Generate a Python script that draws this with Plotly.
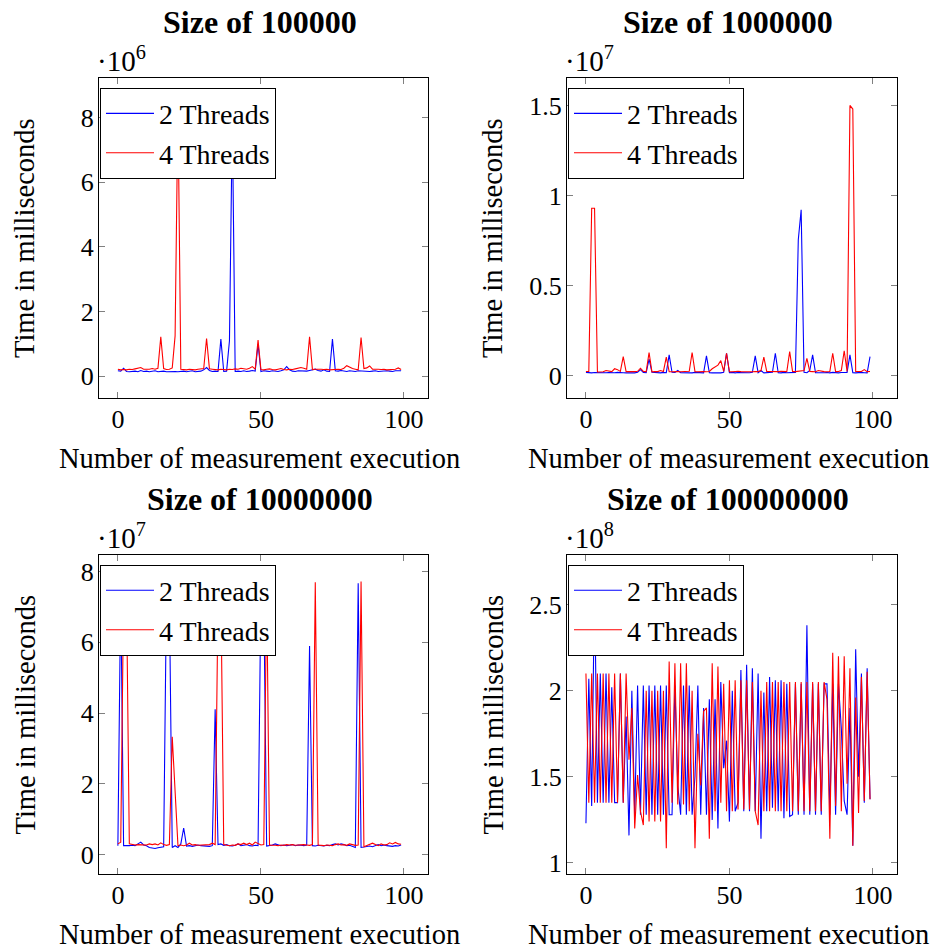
import plotly.graph_objects as go

W, H = 933, 951

# ---------------- data ----------------
runs = list(range(100))

# Size 100000, values in units of 1e6 ms
t2_size1 = [0.17, 0.16, 0.25, 0.15, 0.14, 0.15, 0.16, 0.14, 0.18, 0.15,
            0.16, 0.14, 0.15, 0.17, 0.14, 0.15, 0.16, 0.14, 0.15, 0.16,
            0.15, 0.14, 0.15, 0.16, 0.14, 0.15, 0.17, 0.14, 0.15, 0.16,
            0.20, 0.27, 0.18, 0.15, 0.16, 0.15, 1.15, 0.15, 0.16, 1.10,
            8.00, 0.15, 0.16, 0.15, 0.17, 0.15, 0.16, 0.18, 0.16, 1.00,
            0.15, 0.17, 0.16, 0.15, 0.17, 0.16, 0.15, 0.17, 0.20, 0.30,
            0.20, 0.16, 0.15, 0.17, 0.16, 0.15, 0.16, 0.18, 0.20, 0.22,
            0.18, 0.16, 0.20, 0.16, 0.15, 1.15, 0.17, 0.16, 0.18, 0.16,
            0.15, 0.17, 0.16, 0.15, 0.17, 0.16, 0.15, 0.16, 0.15, 0.16,
            0.17, 0.15, 0.16, 0.15, 0.17, 0.16, 0.15, 0.17, 0.18, 0.17]
t4_size1 = [0.22, 0.20, 0.21, 0.20, 0.22, 0.21, 0.23, 0.25, 0.27, 0.22,
            0.21, 0.22, 0.24, 0.22, 0.25, 1.22, 0.24, 0.21, 0.22, 0.26,
            1.25, 8.40, 0.22, 0.21, 0.20, 0.22, 0.21, 0.20, 0.22, 0.23,
            0.24, 1.17, 0.23, 0.22, 0.21, 0.20, 0.22, 0.21, 0.20, 0.22,
            0.21, 0.23, 0.22, 0.25, 0.24, 0.22, 0.25, 0.30, 0.22, 1.12,
            0.21, 0.20, 0.22, 0.23, 0.21, 0.20, 0.22, 0.24, 0.21, 0.20,
            0.22, 0.21, 0.23, 0.25, 0.27, 0.25, 0.22, 1.22, 0.21, 0.22,
            0.23, 0.22, 0.21, 0.22, 0.20, 0.21, 0.20, 0.22, 0.21, 0.25,
            0.33, 0.28, 0.24, 0.22, 0.20, 1.20, 0.24, 0.26, 0.32, 0.22,
            0.23, 0.22, 0.21, 0.22, 0.20, 0.21, 0.20, 0.22, 0.26, 0.21]

# Size 1000000, values in units of 1e7 ms
t2_size2 = [0.020, 0.018, 0.017, 0.019, 0.018, 0.020, 0.017, 0.018, 0.019, 0.017,
            0.018, 0.020, 0.017, 0.018, 0.017, 0.019, 0.018, 0.017, 0.020, 0.035,
            0.020, 0.018, 0.093, 0.020, 0.018, 0.019, 0.017, 0.020, 0.018, 0.117,
            0.020, 0.019, 0.030, 0.018, 0.017, 0.019, 0.018, 0.017, 0.020, 0.018,
            0.019, 0.017, 0.111, 0.018, 0.017, 0.019, 0.018, 0.017, 0.020, 0.126,
            0.018, 0.020, 0.017, 0.019, 0.018, 0.017, 0.019, 0.018, 0.020, 0.111,
            0.018, 0.030, 0.017, 0.019, 0.018, 0.020, 0.126, 0.018, 0.017, 0.020,
            0.018, 0.019, 0.017, 0.020, 0.755, 0.922, 0.020, 0.018, 0.030, 0.117,
            0.018, 0.017, 0.020, 0.018, 0.019, 0.017, 0.020, 0.018, 0.017, 0.019,
            0.018, 0.020, 0.117, 0.018, 0.017, 0.019, 0.020, 0.018, 0.017, 0.107]
t4_size2 = [0.025, 0.025, 0.930, 0.930, 0.022, 0.024, 0.023, 0.030, 0.025, 0.024,
            0.040, 0.035, 0.025, 0.107, 0.024, 0.023, 0.025, 0.024, 0.026, 0.043,
            0.025, 0.024, 0.130, 0.023, 0.025, 0.024, 0.030, 0.025, 0.104, 0.024,
            0.023, 0.025, 0.024, 0.023, 0.025, 0.024, 0.026, 0.130, 0.024, 0.023,
            0.025, 0.024, 0.023, 0.025, 0.040, 0.050, 0.060, 0.085, 0.025, 0.126,
            0.024, 0.023, 0.025, 0.026, 0.024, 0.023, 0.025, 0.024, 0.023, 0.025,
            0.024, 0.030, 0.104, 0.025, 0.024, 0.023, 0.025, 0.024, 0.026, 0.025,
            0.024, 0.135, 0.025, 0.024, 0.026, 0.028, 0.030, 0.098, 0.025, 0.024,
            0.023, 0.030, 0.025, 0.024, 0.023, 0.025, 0.126, 0.024, 0.025, 0.030,
            0.140, 0.025, 1.500, 1.480, 0.025, 0.024, 0.025, 0.035, 0.024, 0.025]

# Size 10000000, values in units of 1e7 ms
t2_size3 = [0.25, 7.50, 0.25, 0.24, 0.25, 0.26, 0.25, 0.30, 0.35, 0.27,
            0.25, 0.20, 0.18, 0.17, 0.19, 0.20, 0.22, 7.50, 7.30, 0.20,
            0.25, 0.20, 0.30, 0.75, 0.24, 0.25, 0.23, 0.25, 0.27, 0.25,
            0.24, 0.22, 0.23, 0.25, 4.11, 0.28, 0.30, 0.26, 0.28, 0.25,
            0.24, 0.26, 0.30, 0.25, 0.27, 0.28, 0.25, 0.24, 0.26, 0.25,
            7.50, 7.30, 0.24, 0.25, 0.27, 0.30, 0.28, 0.25, 0.27, 0.25,
            0.26, 0.28, 0.25, 0.27, 0.26, 0.25, 0.27, 5.90, 0.25, 0.24,
            0.26, 0.25, 0.24, 0.26, 0.25, 0.28, 0.30, 0.27, 0.30, 0.28,
            0.25, 0.26, 0.24, 0.20, 7.67, 0.20, 0.21, 0.22, 0.24, 0.22,
            0.25, 0.28, 0.25, 0.27, 0.25, 0.24, 0.23, 0.25, 0.24, 0.27]
t4_size3 = [0.30, 0.35, 7.30, 7.50, 0.30, 0.28, 0.27, 0.28, 0.27, 0.28,
            0.27, 0.30, 0.28, 0.30, 0.27, 0.33, 0.28, 0.26, 0.28, 3.33,
            1.70, 0.25, 0.27, 0.25, 0.27, 0.32, 0.27, 0.28, 0.26, 0.27,
            0.28, 0.27, 0.28, 0.32, 0.28, 7.20, 7.50, 0.28, 0.26, 0.25,
            0.27, 0.26, 0.30, 0.28, 0.32, 0.28, 0.32, 0.27, 0.35, 0.30,
            0.27, 0.28, 7.60, 0.26, 0.27, 0.26, 0.25, 0.27, 0.26, 0.28,
            0.27, 0.28, 0.26, 0.27, 0.26, 0.28, 0.27, 0.26, 0.28, 7.70,
            0.27, 0.26, 0.25, 0.27, 0.26, 0.25, 0.28, 0.30, 0.27, 0.28,
            0.26, 0.30, 0.28, 0.26, 0.27, 7.72, 0.22, 0.25, 0.27, 0.32,
            0.28, 0.25, 0.30, 0.27, 0.28, 0.33, 0.30, 0.34, 0.30, 0.29]

# Size 100000000, values in units of 1e8 ms
t2_size4 = [1.23, 2.07, 1.33, 2.64, 1.35, 2.10, 1.35, 2.10, 1.35, 2.02,
            1.35, 1.35, 2.10, 1.35, 1.85, 1.16, 2.00, 1.28, 2.03, 1.28,
            2.03, 1.28, 2.03, 1.28, 2.03, 1.28, 2.03, 1.28, 2.03, 1.28,
            1.28, 2.03, 1.45, 1.28, 2.03, 1.28, 2.03, 1.28, 1.50, 2.03,
            1.28, 1.90, 1.28, 1.95, 1.25, 1.95, 1.20, 2.05, 1.55, 1.71,
            1.24, 2.00, 1.30, 1.35, 2.12, 1.30, 2.15, 1.30, 2.13, 1.30,
            2.10, 1.14, 1.99, 1.30, 2.08, 1.32, 2.06, 1.30, 2.06, 1.26,
            2.04, 1.27, 1.28, 2.04, 1.28, 2.04, 1.28, 2.38, 1.28, 2.04,
            1.28, 2.04, 1.28, 2.04, 2.04, 1.28, 2.04, 1.28, 2.04, 1.78,
            1.36, 1.28, 1.90, 1.10, 2.24, 1.50, 2.10, 1.35, 2.13, 1.37]
t4_size4 = [2.10, 1.35, 2.10, 1.35, 2.10, 1.35, 2.10, 1.35, 2.10, 1.35,
            2.10, 1.35, 2.10, 1.35, 2.10, 1.60, 1.90, 1.20, 1.51, 1.30,
            1.22, 2.00, 1.24, 2.00, 1.24, 2.00, 1.24, 2.00, 1.085, 2.17,
            1.35, 2.16, 1.34, 2.16, 1.34, 2.16, 1.30, 2.00, 1.085, 1.75,
            1.45, 1.88, 1.90, 1.14, 2.16, 1.30, 2.14, 1.35, 2.04, 1.30,
            2.06, 1.30, 2.06, 1.31, 2.06, 1.31, 2.06, 1.31, 2.05, 1.30,
            1.22, 2.00, 1.30, 2.05, 1.30, 2.05, 1.30, 2.05, 1.30, 2.05,
            1.30, 2.05, 1.30, 2.05, 1.30, 2.05, 1.30, 2.05, 1.30, 2.05,
            1.30, 2.05, 1.30, 2.05, 1.95, 1.14, 2.22, 1.33, 2.20, 1.30,
            2.20, 1.46, 2.13, 1.10, 1.96, 1.29, 2.08, 1.36, 2.11, 1.37]

titles = ["Size of 100000", "Size of 1000000", "Size of 10000000", "Size of 100000000"]
exponents = ["6", "7", "7", "8"]
series2 = [t2_size1, t2_size2, t2_size3, t2_size4]
series4 = [t4_size1, t4_size2, t4_size3, t4_size4]
ytick_vals = [[0, 2, 4, 6, 8], [0, 0.5, 1, 1.5], [0, 2, 4, 6, 8], [1, 1.5, 2, 2.5]]
ytick_text = [["0", "2", "4", "6", "8"], ["0", "0.5", "1", "1.5"],
              ["0", "2", "4", "6", "8"], ["1", "1.5", "2", "2.5"]]
xtick_vals = [0, 50, 100]
xtick_text = ["0", "50", "100"]
y_ranges = [[-0.68, 9.23], [-0.124, 1.654], [-0.56, 8.48], [0.934, 2.79]]
x_range = [-6.6, 108.4]

# ---------------- layout geometry (pixels) ----------------
boxes = [(99, 78, 428, 400), (567, 78, 897, 400),
         (99, 557, 428, 878), (567, 557, 897, 878)]

FONT = "Liberation Serif"
BLUE = "#0000ff"
RED = "#ff0000"


def px(x):
    return x / W


def py(y):
    return 1 - y / H


fig = go.Figure()
annotations = []
layout_axes = {}

for k in range(4):
    n = "" if k == 0 else str(k + 1)
    legname = "legend" if k == 0 else f"legend{k + 1}"
    x0, y0, x1, y1 = boxes[k]
    fig.add_trace(go.Scatter(x=runs, y=series2[k], mode="lines", name="2 Threads",
                             line=dict(color=BLUE, width=1.1),
                             xaxis="x" + n, yaxis="y" + n, legend=legname))
    fig.add_trace(go.Scatter(x=runs, y=series4[k], mode="lines", name="4 Threads",
                             line=dict(color=RED, width=1.1),
                             xaxis="x" + n, yaxis="y" + n, legend=legname))
    common = dict(showline=True, linecolor="black", linewidth=1, mirror="allticks",
                  ticks="inside", ticklen=6, tickcolor="#808080", tickwidth=1,
                  showgrid=False, zeroline=False,
                  tickfont=dict(family=FONT, size=26, color="black"))
    layout_axes["xaxis" + n] = dict(common, domain=[px(x0), px(x1)], range=x_range,
                                   anchor="y" + n, tickvals=xtick_vals, ticktext=xtick_text,
                                   ticklabelstandoff=-3)
    layout_axes["yaxis" + n] = dict(common, domain=[py(y1), py(y0)], range=y_ranges[k],
                                   anchor="x" + n, tickvals=ytick_vals[k], ticktext=ytick_text[k],
                                   ticklabelstandoff=-1)
    layout_axes[legname] = dict(x=px(x0 + 1), y=py(y0 + 10), xanchor="left", yanchor="top",
                                bgcolor="white", bordercolor="black", borderwidth=1,
                                font=dict(family=FONT, size=28, color="black"),
                                tracegroupgap=0, itemwidth=48,
                                entrywidth=145, entrywidthmode="pixels")
    cx = (x0 + x1) / 2
    # title
    annotations.append(dict(text="<b>" + titles[k] + "</b>", x=px(cx - 4), y=py(y0 - 56),
                            xref="paper", yref="paper", showarrow=False,
                            xanchor="center", yanchor="middle",
                            font=dict(family=FONT, size=32, color="black")))
    # exponent
    annotations.append(dict(text="·10<sup>" + exponents[k] + "</sup>", x=px(x0 - 4), y=py(y0 - 19),
                            xref="paper", yref="paper", showarrow=False,
                            xanchor="left", yanchor="middle",
                            font=dict(family=FONT, size=29, color="black")))
    # y label
    annotations.append(dict(text="Time in milliseconds", x=px(x0 - 74), y=py((y0 + y1) / 2),
                            xref="paper", yref="paper", showarrow=False, textangle=-90,
                            xanchor="center", yanchor="middle",
                            font=dict(family=FONT, size=28.5, color="black")))
    # x label
    annotations.append(dict(text="Number of measurement execution", x=px(cx - 4), y=py(y1 + 60),
                            xref="paper", yref="paper", showarrow=False,
                            xanchor="center", yanchor="middle",
                            font=dict(family=FONT, size=28.5, color="black")))

fig.update_layout(width=W, height=H, margin=dict(l=0, r=0, t=0, b=0),
                  paper_bgcolor="white", plot_bgcolor="white",
                  annotations=annotations, **layout_axes)

fig.write_html("out.html", config={"displayModeBar": False},
               post_script="document.body.style.margin='0px';"
                           "document.body.style.padding='0px';"
                           "document.body.style.overflow='hidden';")
